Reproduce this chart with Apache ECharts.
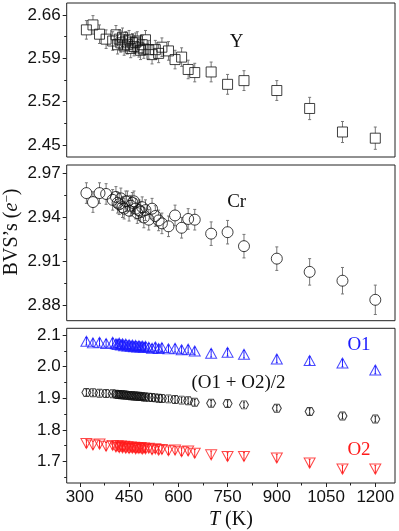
<!DOCTYPE html>
<html>
<head>
<meta charset="utf-8">
<script src="https://cdn.jsdelivr.net/npm/echarts@6.0.0/dist/echarts.min.js"></script>
<style>
  html, body { margin: 0; padding: 0; background: #fff; }
  #chart { width: 399px; height: 531px; }
</style>
</head>
<body>
<div id="chart"></div>
<script>
// temperatures (K), shared by all panels
const temps = [320, 340, 360, 380, 400, 410, 415, 420, 425, 430, 435, 440, 445, 450, 455, 460, 465, 470, 475, 480,
  485, 490, 495, 500, 510, 520, 530, 540, 550, 570, 590, 610, 630, 650, 700, 750, 800, 900, 1000, 1100, 1200]

// Y site
const yBvs = [2.636, 2.644, 2.629, 2.621, 2.618, 2.628, 2.612, 2.621, 2.615, 2.624, 2.610, 2.618, 2.612, 2.620, 2.606, 2.615, 2.609, 2.616, 2.618, 2.607,
  2.603, 2.612, 2.605, 2.620, 2.604, 2.596, 2.604, 2.598, 2.608, 2.602, 2.588, 2.592, 2.572, 2.567, 2.568, 2.548, 2.554, 2.538, 2.509, 2.471, 2.461]
const yErr = [0.015, 0.015, 0.015, 0.015, 0.015, 0.015, 0.015, 0.015, 0.015, 0.015, 0.015, 0.015, 0.015, 0.015, 0.015, 0.015, 0.015, 0.015, 0.015, 0.015,
  0.015, 0.015, 0.015, 0.015, 0.015, 0.015, 0.015, 0.015, 0.015, 0.015, 0.015, 0.015, 0.015, 0.015, 0.016, 0.016, 0.016, 0.016, 0.018, 0.017, 0.018]

// Cr site
const crBvs = [2.9566, 2.9505, 2.9566, 2.956, 2.952, 2.954, 2.950, 2.949, 2.953, 2.947, 2.946, 2.951, 2.951, 2.9446, 2.948, 2.950, 2.951, 2.946, 2.943, 2.945,
  2.944, 2.947, 2.940, 2.945, 2.9385, 2.946, 2.941, 2.938, 2.936, 2.934, 2.9414, 2.933, 2.939, 2.9385, 2.929, 2.930, 2.9205, 2.912, 2.903, 2.897, 2.884]
const crErr = [0.007, 0.007, 0.007, 0.007, 0.007, 0.007, 0.007, 0.007, 0.007, 0.007, 0.007, 0.007, 0.007, 0.007, 0.007, 0.007, 0.007, 0.007, 0.007, 0.007,
  0.007, 0.007, 0.007, 0.007, 0.007, 0.007, 0.007, 0.007, 0.007, 0.007, 0.007, 0.007, 0.007, 0.007, 0.008, 0.008, 0.008, 0.008, 0.009, 0.009, 0.010]

// O sites
const o1Bvs = [2.080, 2.075, 2.077, 2.073, 2.077, 2.072, 2.070, 2.074, 2.068, 2.072, 2.066, 2.071, 2.065, 2.069, 2.064, 2.068, 2.063, 2.067, 2.062, 2.066,
  2.062, 2.065, 2.061, 2.064, 2.061, 2.058, 2.062, 2.057, 2.060, 2.056, 2.058, 2.053, 2.055, 2.049, 2.042, 2.045, 2.039, 2.024, 2.019, 2.011, 1.989]
const avgBvs = [1.918, 1.917, 1.916, 1.915, 1.914, 1.913, 1.912, 1.912, 1.911, 1.911, 1.910, 1.910, 1.909, 1.909, 1.908, 1.908, 1.907, 1.907, 1.906, 1.906,
  1.905, 1.905, 1.904, 1.904, 1.903, 1.902, 1.901, 1.900, 1.899, 1.898, 1.896, 1.894, 1.892, 1.887, 1.884, 1.883, 1.879, 1.8685, 1.858, 1.844, 1.834]
const o2Bvs = [1.757, 1.752, 1.755, 1.748, 1.751, 1.746, 1.750, 1.744, 1.749, 1.743, 1.748, 1.742, 1.747, 1.741, 1.746, 1.742, 1.745, 1.740, 1.744, 1.741,
  1.744, 1.739, 1.743, 1.740, 1.742, 1.737, 1.740, 1.736, 1.738, 1.734, 1.736, 1.731, 1.733, 1.726, 1.721, 1.716, 1.716, 1.711, 1.695, 1.676, 1.676]
const o1Err = 0.012
const avgErr = 0.009
const o2Err = 0.012

// ticks
const xTicks = [300, 450, 600, 750, 900, 1050, 1200]
const xMinor = [375, 525, 675, 825, 975, 1125]
const yTicks = [[2.45, 2.52, 2.59, 2.66], [2.88, 2.91, 2.94, 2.97], [1.7, 1.8, 1.9, 2.0, 2.1]]
const yMinor = [[2.485, 2.555, 2.625], [2.895, 2.925, 2.955], [1.65, 1.75, 1.85, 1.95, 2.05]]
const yRange = [[2.4306, 2.6794], [2.8698, 2.9757], [1.632, 2.121]]
const yDigits = [2, 2, 1]

const BLUE = '#1a1aff'
const RED = '#ff1a1a'
const SANS = 'Liberation Sans, Arial, sans-serif'
const SERIF = 'Liberation Serif, Times New Roman, serif'

const chart = echarts.init(document.getElementById('chart'))

const grids = [
  { left: 66.7, right: 4, top: 3, height: 154 },
  { left: 66.7, right: 4, top: 165, height: 155.7 },
  { left: 66.7, right: 4, top: 328.3, height: 155 }
].map(g => Object.assign(g, { show: true, borderColor: '#222', borderWidth: 1, backgroundColor: 'transparent' }))

const xAxes = []
const yAxes = []
for (let i = 0; i < 3; i++) {
  const last = i === 2
  xAxes.push({
    gridIndex: i, type: 'value', min: 260, max: 1260, position: 'bottom',
    axisLine: { show: false }, splitLine: { show: false },
    axisTick: { show: last, customValues: xTicks, length: 4, lineStyle: { color: '#222' } },
    axisLabel: { show: last, customValues: xTicks, formatter: v => String(v), margin: 6, fontSize: 17, fontFamily: SANS, color: '#111' },
    name: last ? '{i|T} (K)' : '', nameLocation: 'middle', nameGap: 27,
    nameTextStyle: { fontFamily: SERIF, fontSize: 20, color: '#111', rich: { i: { fontFamily: SERIF, fontStyle: 'italic', fontSize: 20, color: '#111' } } }
  })
  yAxes.push({
    gridIndex: i, type: 'value', min: yRange[i][0], max: yRange[i][1], position: 'left',
    axisLine: { show: false }, splitLine: { show: false },
    axisTick: { show: true, customValues: yTicks[i], length: 4, lineStyle: { color: '#222' } },
    axisLabel: { customValues: yTicks[i], formatter: v => v.toFixed(yDigits[i]), margin: 6, fontSize: 17, fontFamily: SANS, color: '#111' }
  })
}
// minor ticks on extra axes
xAxes.push({
  gridIndex: 2, type: 'value', min: 260, max: 1260, position: 'bottom',
  axisLine: { show: false }, splitLine: { show: false }, axisLabel: { show: false },
  axisTick: { show: true, customValues: xMinor, length: 2.5, lineStyle: { color: '#222' } }
})
for (let i = 0; i < 3; i++) {
  yAxes.push({
    gridIndex: i, type: 'value', min: yRange[i][0], max: yRange[i][1], position: 'left',
    axisLine: { show: false }, splitLine: { show: false }, axisLabel: { show: false },
    axisTick: { show: true, customValues: yMinor[i], length: 2.5, lineStyle: { color: '#222' } }
  })
}

// error bars, leaving a gap where the open marker sits
const errSeries = (idx, vals, errs, gap, color, cap) => ({
  type: 'custom', xAxisIndex: idx, yAxisIndex: idx, silent: true, z: 1,
  data: temps.map((t, k) => [t, vals[k], Array.isArray(errs) ? errs[k] : errs]),
  renderItem: (params, api) => {
    const x = api.value(0), y = api.value(1), e = api.value(2)
    const c = api.coord([x, y])
    const top = api.coord([x, y + e])[1]
    const bot = api.coord([x, y - e])[1]
    const style = { stroke: color, lineWidth: 1 }
    const kids = []
    if (c[1] - top > gap) {
      kids.push({ type: 'line', shape: { x1: c[0], y1: top, x2: c[0], y2: c[1] - gap }, style })
      kids.push({ type: 'line', shape: { x1: c[0] - cap, y1: top, x2: c[0] + cap, y2: top }, style })
    }
    if (bot - c[1] > gap) {
      kids.push({ type: 'line', shape: { x1: c[0], y1: c[1] + gap, x2: c[0], y2: bot }, style })
      kids.push({ type: 'line', shape: { x1: c[0] - cap, y1: bot, x2: c[0] + cap, y2: bot }, style })
    }
    return { type: 'group', children: kids }
  }
})

const scatter = (idx, vals, symbol, size, color, extra) => Object.assign({
  type: 'scatter', xAxisIndex: idx, yAxisIndex: idx, z: 2,
  data: temps.map((t, k) => [t, vals[k]]),
  symbol, symbolSize: size,
  itemStyle: { color: 'rgba(0,0,0,0)', borderColor: color, borderWidth: 1 },
  emphasis: { disabled: true }
}, extra || {})

const hexagon = 'path://M0,4.33L2.5,0L7.5,0L10,4.33L7.5,8.66L2.5,8.66Z'

chart.setOption({
  animation: false,
  grid: grids,
  xAxis: xAxes,
  yAxis: yAxes,
  series: [
    errSeries(0, yBvs, yErr, 5, '#777', 1.5),
    scatter(0, yBvs, 'rect', 10, '#111'),
    errSeries(1, crBvs, crErr, 5, '#777', 1.5),
    scatter(1, crBvs, 'circle', 11, '#111'),
    errSeries(2, o1Bvs, o1Err, 0, BLUE, 1),
    scatter(2, o1Bvs, 'triangle', [11, 10], BLUE),
    errSeries(2, avgBvs, avgErr, 0, '#222', 1),
    scatter(2, avgBvs, hexagon, [9, 8], '#111'),
    errSeries(2, o2Bvs, o2Err, 0, RED, 1),
    scatter(2, o2Bvs, 'triangle', [11, 10], RED, { symbolRotate: 180 })
  ],
  graphic: [
    { type: 'text', x: 236.7, y: 41.7, style: { text: 'Y', font: '19px ' + SERIF, fill: '#111', align: 'center', verticalAlign: 'middle' } },
    { type: 'text', x: 236.7, y: 201.7, style: { text: 'Cr', font: '19px ' + SERIF, fill: '#111', align: 'center', verticalAlign: 'middle' } },
    { type: 'text', x: 359, y: 345, style: { text: 'O1', font: '19px ' + SERIF, fill: BLUE, align: 'center', verticalAlign: 'middle' } },
    { type: 'text', x: 238.5, y: 383.3, style: { text: '(O1 + O2)/2', font: '19px ' + SERIF, fill: '#111', align: 'center', verticalAlign: 'middle' } },
    { type: 'text', x: 359, y: 450, style: { text: 'O2', font: '19px ' + SERIF, fill: RED, align: 'center', verticalAlign: 'middle' } },
    {
      type: 'text', x: 12, y: 232, rotation: Math.PI / 2,
      style: {
        text: '{n|BVS\u2019s (}{i|e}{s|\u2212}{n|)}',
        align: 'center', verticalAlign: 'middle',
        rich: {
          n: { fontFamily: SERIF, fontSize: 20, fill: '#111' },
          i: { fontFamily: SERIF, fontSize: 20, fontStyle: 'italic', fill: '#111' },
          s: { fontFamily: SERIF, fontSize: 13, fill: '#111', padding: [0, 0, 9, 0] }
        }
      }
    }
  ]
})

window.addEventListener('resize', () => chart.resize())
</script>
</body>
</html>
